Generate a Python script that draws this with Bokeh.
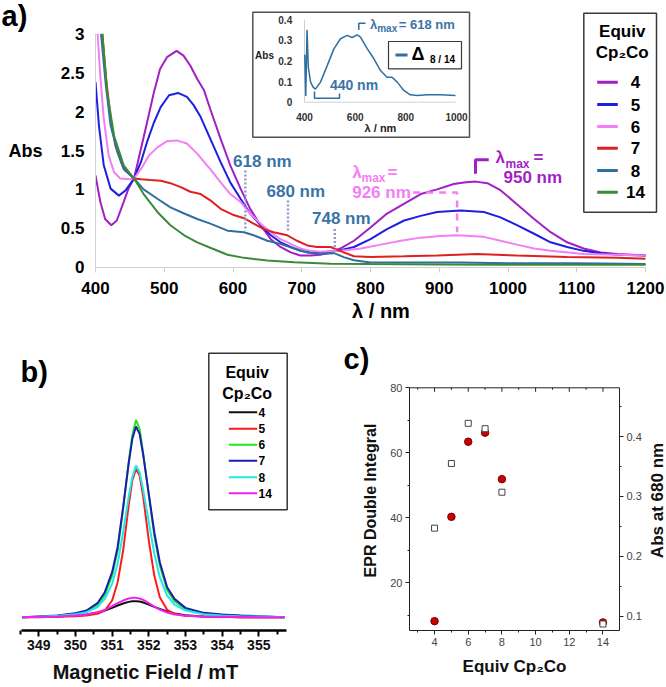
import math
from bokeh.plotting import figure
from bokeh.models import Range1d, LinearAxis, FixedTicker, NumeralTickFormatter
from bokeh.layouts import column, row
from bokeh.embed import file_html
from bokeh.resources import INLINE
from bokeh.core.properties import value

# ------------------------------------------------------------------ data
equiv_labels = ["4", "5", "6", "7", "8", "14"]

# panel a: UV-vis-NIR spectra (wavelength nm, absorbance)
wl_4 = [400, 407, 414, 423, 431, 441, 448, 456, 465, 475, 485, 494, 504, 518, 528, 538, 548, 558, 567,
        582, 596, 611, 625, 640, 655, 669, 684, 698, 713, 727, 742, 756, 776, 800, 824, 848, 873, 897,
        921, 936, 953, 970, 989, 1013, 1038, 1062, 1086, 1110, 1135, 1159, 1200]
abs_4 = [1.18, 0.84, 0.62, 0.54, 0.60, 0.84, 1.01, 1.14, 1.48, 1.86, 2.25, 2.55, 2.70, 2.78, 2.72, 2.59,
         2.42, 2.27, 2.03, 1.65, 1.31, 1.01, 0.75, 0.54, 0.36, 0.26, 0.19, 0.15, 0.15, 0.16, 0.19, 0.24,
         0.34, 0.51, 0.69, 0.81, 0.94, 1.00, 1.07, 1.09, 1.10, 1.08, 0.99, 0.81, 0.62, 0.45, 0.32, 0.24,
         0.19, 0.17, 0.15]
wl_5 = [400, 405, 412, 422, 434, 444, 456, 466, 475, 485, 495, 507, 520, 533, 543, 553, 567, 582, 596,
        611, 625, 640, 655, 669, 684, 698, 713, 727, 752, 776, 800, 824, 849, 873, 897, 931, 965, 989,
        1013, 1038, 1062, 1086, 1110, 1135, 1159, 1200]
abs_5 = [2.38, 1.82, 1.31, 1.01, 0.92, 0.99, 1.14, 1.35, 1.61, 1.86, 2.06, 2.21, 2.24, 2.19, 2.08, 1.93,
         1.65, 1.35, 1.09, 0.88, 0.69, 0.54, 0.41, 0.32, 0.26, 0.21, 0.19, 0.19, 0.21, 0.26, 0.36, 0.49,
         0.60, 0.66, 0.71, 0.73, 0.71, 0.64, 0.54, 0.43, 0.32, 0.26, 0.21, 0.18, 0.16, 0.15]
wl_6 = [403, 407, 412, 419, 427, 436, 449, 456, 466, 478, 490, 504, 518, 533, 548, 560, 567, 582, 596,
        611, 625, 640, 655, 669, 684, 698, 713, 727, 756, 786, 815, 844, 873, 902, 926, 965, 989, 1013,
        1038, 1062, 1110, 1159, 1200]
abs_6 = [3.0, 2.46, 1.91, 1.44, 1.22, 1.14, 1.13, 1.14, 1.26, 1.44, 1.54, 1.62, 1.63, 1.59, 1.46, 1.33,
         1.26, 1.09, 0.94, 0.84, 0.69, 0.56, 0.45, 0.36, 0.30, 0.24, 0.21, 0.20, 0.21, 0.24, 0.29, 0.34,
         0.38, 0.40, 0.41, 0.39, 0.34, 0.29, 0.24, 0.21, 0.17, 0.16, 0.15]
wl_7 = [410, 415, 422, 429, 439, 449, 456, 466, 480, 495, 509, 524, 538, 553, 567, 582, 601, 616, 630,
        645, 659, 679, 693, 708, 722, 742, 761, 776, 800, 849, 897, 955, 1013, 1086, 1159, 1200]
abs_7 = [3.0, 2.46, 1.91, 1.56, 1.31, 1.20, 1.14, 1.13, 1.12, 1.11, 1.08, 1.03, 0.97, 0.94, 0.86, 0.75,
         0.67, 0.63, 0.56, 0.49, 0.45, 0.41, 0.34, 0.28, 0.26, 0.26, 0.19, 0.14, 0.13, 0.14, 0.15, 0.17,
         0.15, 0.13, 0.12, 0.11]
wl_8 = [408, 415, 422, 432, 441, 456, 470, 490, 509, 529, 548, 567, 592, 616, 630, 650, 669, 689, 708,
        727, 747, 761, 776, 800, 849, 931, 1000, 1100, 1200]
abs_8 = [3.0, 2.34, 1.82, 1.48, 1.26, 1.14, 1.0, 0.88, 0.77, 0.69, 0.62, 0.56, 0.47, 0.45, 0.41, 0.34,
         0.30, 0.24, 0.19, 0.17, 0.18, 0.13, 0.09, 0.06, 0.06, 0.06, 0.05, 0.05, 0.04]
wl_14 = [410, 417, 427, 441, 456, 470, 490, 509, 529, 548, 567, 592, 616, 650, 689, 742, 800, 900, 1000,
         1100, 1200]
abs_14 = [3.0, 2.25, 1.69, 1.31, 1.14, 0.94, 0.71, 0.54, 0.41, 0.32, 0.25, 0.16, 0.12, 0.086, 0.064,
          0.045, 0.04, 0.035, 0.03, 0.03, 0.03]

marked_wl = [618, 680, 748]
marked_labels = ["618 nm", "680 nm", "748 nm"]

# inset: difference spectrum 8 / 14
wl_delta = [401, 405, 410, 415, 424, 434, 443, 463, 490, 516, 542, 568, 588, 608, 621, 648, 674, 700,
            726, 746, 766, 792, 818, 845, 884, 937, 996]
abs_delta = [0.23, 0.03, 0.35, 0.17, 0.097, 0.073, 0.063, 0.097, 0.178, 0.258, 0.307, 0.323, 0.313,
             0.326, 0.315, 0.258, 0.21, 0.153, 0.121, 0.121, 0.097, 0.057, 0.036, 0.032, 0.036, 0.036,
             0.032]
inset_xticks = [400, 600, 800, 1000]
inset_yticks = [0, 0.1, 0.2, 0.3, 0.4]
inset_ylabels = ["0", "0.1", "0.2", "0.3", "0.4"]

# panel b: EPR spectra (field mT, intensity a.u.)
field = [348.55, 349.0, 349.5, 350.0, 350.3, 350.6, 350.8, 351.0, 351.15, 351.3, 351.45, 351.55, 351.65,
         351.75, 351.85, 352.0, 352.15, 352.3, 352.5, 352.7, 353.0, 353.5, 354.0, 354.5, 355.0, 355.7]
epr_4 = [0, 0.01, 0.02, 0.05, 0.08, 0.14, 0.2, 0.28, 0.35, 0.41, 0.46, 0.48, 0.48, 0.47, 0.44, 0.38,
         0.31, 0.25, 0.17, 0.11, 0.06, 0.02, 0.01, 0, 0, 0]
epr_5 = [0, 0, 0.01, 0.03, 0.05, 0.1, 0.2, 0.5, 1.05, 2.0, 3.35, 4.1, 4.45, 4.25, 3.6, 2.3, 1.25, 0.6,
         0.22, 0.1, 0.04, 0.02, 0.01, 0, 0, 0]
epr_6 = [0, 0.01, 0.04, 0.1, 0.17, 0.36, 0.66, 1.25, 2.0, 3.25, 4.65, 5.45, 5.92, 5.65, 4.9, 3.65, 2.45,
         1.55, 0.82, 0.48, 0.24, 0.11, 0.06, 0.04, 0.02, 0]
epr_7 = [0, 0.02, 0.05, 0.12, 0.2, 0.42, 0.75, 1.35, 2.1, 3.3, 4.6, 5.35, 5.72, 5.5, 4.85, 3.7, 2.55,
         1.65, 0.9, 0.55, 0.28, 0.13, 0.08, 0.05, 0.03, 0]
epr_8 = [0, 0.01, 0.04, 0.09, 0.15, 0.3, 0.55, 1.0, 1.6, 2.55, 3.6, 4.2, 4.55, 4.35, 3.8, 2.85, 1.9, 1.2,
         0.65, 0.38, 0.2, 0.09, 0.05, 0.03, 0.02, 0]
epr_14 = [0, 0.01, 0.02, 0.05, 0.08, 0.15, 0.22, 0.33, 0.42, 0.5, 0.56, 0.58, 0.58, 0.56, 0.52, 0.42,
          0.32, 0.23, 0.14, 0.08, 0.04, 0.02, 0.01, 0.01, 0, 0]
field_ticks = [349, 350, 351, 352, 353, 354, 355]

# panel c
equiv = [4, 5, 6, 7, 8, 14]
epr_integral = [8.2, 40.3, 63.4, 66.2, 51.9, 7.8]
abs_680 = [0.247, 0.355, 0.422, 0.413, 0.307, 0.087]
equiv_ticks = [4, 6, 8, 10, 12, 14]
equiv_minor = [3, 5, 7, 9, 11, 13]

# ------------------------------------------------------------------ style
FONT = "Liberation Sans"
colors_a = ["#a21fc4", "#1f1fe0", "#f47ef4", "#e0201e", "#2f6fa0", "#3b8a3b"]
colors_b = ["#111111", "#ff1a1a", "#22e622", "#1c1cb0", "#1ee8e8", "#f020f0"]
STEEL_TXT = "#3a74a6"
DOT = "#9896c8"


def label(p, x, y, s, size, color="black", bold=True, align="left", baseline="middle",
          xr="scr", yr="scr", angle=0.0):
    p.text(x=[x], y=[y], text=[s], text_font=value(FONT), text_font_size=f"{size}px",
           text_font_style="bold" if bold else "normal", text_color=color, text_align=align,
           text_baseline=baseline, angle=angle, x_range_name=xr, y_range_name=yr)


def strip(x0, x1, y_top, y_bottom, height, bottom_border):
    """Axis-less figure used only to hold panel texts; ranges are picture pixel coordinates."""
    s = figure(width=int(round(x1 - x0)), height=height, output_backend="svg", toolbar_location=None,
               x_range=Range1d(x0, x1), y_range=Range1d(y_bottom, y_top),
               x_axis_location=None, y_axis_location=None,
               min_border_left=0, min_border_right=0, min_border_top=0, min_border_bottom=bottom_border)
    s.extra_x_ranges = {"scr": Range1d(x0, x1)}
    s.extra_y_ranges = {"scr": Range1d(y_bottom, y_top)}
    s.outline_line_color = None
    s.grid.visible = False
    return s


# ================================================================== panel a
HA = 330
FLA, FRA, FTA, FBA = 95, 666, 0, 267          # frame in picture pixels
kx = (645 - 95) / 800
ky = (266.7 - 33.3) / 3
ikx = (456 - 304) / 600
iky = (101.7 - 19) / 0.4

strip_a = strip(0, 50, 0, FBA, HA, HA - FBA)
label(strip_a, 1, 15, "a)", 29)
label(strip_a, 25, 150, "Abs", 18, align="center")

pa = figure(width=FRA - 50, height=HA, output_backend="svg", toolbar_location=None,
            x_range=Range1d(400 - (FLA - 95) / kx, 400 + (FRA - 95) / kx),
            y_range=Range1d(-(FBA - 266.7) / ky, (266.7 - FTA) / ky),
            min_border_left=FLA - 50, min_border_right=0, min_border_top=0,
            min_border_bottom=HA - FBA)
pa.extra_x_ranges = {"scr": Range1d(FLA, FRA),
                     "ix": Range1d(400 - (304 - FLA) / ikx, 400 + (FRA - 304) / ikx)}
pa.extra_y_ranges = {"scr": Range1d(FBA, FTA),
                     "iy": Range1d(-(FBA - 101.7) / iky, (101.7 - FTA) / iky)}
pa.outline_line_color = None
pa.grid.visible = False

for ax in (pa.xaxis[0], pa.yaxis[0]):
    ax.axis_line_color = "#d0d0d0"
    ax.major_tick_line_color = "#d0d0d0"
    ax.minor_tick_line_color = None
    ax.major_label_text_font = FONT
    ax.major_label_text_font_style = "bold"
    ax.major_label_text_font_size = "17px"
    ax.major_label_text_color = "black"
    ax.major_tick_in = 0
pa.xaxis[0].ticker = FixedTicker(ticks=[400, 500, 600, 700, 800, 900, 1000, 1100, 1200])
pa.xaxis[0].bounds = (400, 1200)
pa.xaxis[0].major_tick_out = 5
pa.xaxis[0].major_label_standoff = 9
pa.xaxis[0].axis_label = "λ / nm"
pa.xaxis[0].axis_label_text_font = FONT
pa.xaxis[0].axis_label_text_font_size = "20px"
pa.xaxis[0].axis_label_text_font_style = "bold"
pa.xaxis[0].axis_label_text_color = "black"
pa.xaxis[0].axis_label_standoff = 3
pa.yaxis[0].ticker = FixedTicker(ticks=[0, 0.5, 1, 1.5, 2, 2.5, 3])
pa.yaxis[0].formatter = NumeralTickFormatter(format="0.[0]")
pa.yaxis[0].bounds = (0, 3)
pa.yaxis[0].major_tick_out = 0
pa.yaxis[0].major_label_standoff = 11

series_a = [(wl_4, abs_4), (wl_5, abs_5), (wl_6, abs_6), (wl_7, abs_7), (wl_8, abs_8), (wl_14, abs_14)]
for (xs, ys), c in zip(series_a, colors_a):
    pa.line(xs, ys, line_color=c, line_width=2)

# marked wavelengths
pa.segment(x0=marked_wl, y0=[1.243, 0.857, 0.49], x1=marked_wl, y1=[0.47, 0.47, 0.193],
           line_color=DOT, line_width=2.5, line_dash="2 2")
for (X, Y), s in zip([(261.9, 161), (295.3, 190.7), (340.8, 218.3)], marked_labels):
    label(pa, X, Y, s, 17, STEEL_TXT, align="center")

# pink lambda max
pink = colors_a[2]
pa.line([862, 926, 926], [0.96, 0.96, 0.45], line_color=pink, line_width=2.5, line_dash="7 6")
label(pa, 351.7, 171.7, "λ", 17, pink)
label(pa, 361, 177.5, "max", 12, pink)
label(pa, 387, 171.7, "=", 17, pink)
label(pa, 351.7, 191.7, "926 nm", 17, pink)

# purple lambda max
purple = colors_a[0]
pa.line([972, 952.7, 952.7], [1.38, 1.38, 1.2], line_color=purple, line_width=3)
label(pa, 495, 157, "λ", 17, purple)
label(pa, 505, 163.3, "max", 12, purple)
label(pa, 533, 157, "=", 17, purple)
label(pa, 503, 177.3, "950 nm", 17, purple)

# legend a
pa.quad(left=583.3, right=656, top=12.7, bottom=211.7, fill_color="white", line_color="#3a3a3a",
        line_width=1.5, x_range_name="scr", y_range_name="scr")
label(pa, 621.7, 31, "Equiv", 17, align="center")
label(pa, 621.7, 52, "Cp₂Co", 17, align="center")
rows_a = [81.7, 104, 126, 147.7, 170, 191.7]
pa.segment(x0=[596.7] * 6, x1=[617.3] * 6, y0=rows_a, y1=rows_a,
           line_color=colors_a, line_width=3, x_range_name="scr", y_range_name="scr")
pa.text(x=[635] * 6, y=rows_a, text=equiv_labels, text_font=value(FONT),
        text_font_size="17px", text_font_style="bold", text_align="center", text_baseline="middle",
        text_color="black", x_range_name="scr", y_range_name="scr")

# inset
pa.quad(left=252.3, right=469, top=11.7, bottom=136.7, fill_color="white", line_color="#505050",
        line_width=1.5, x_range_name="scr", y_range_name="scr")
pa.segment(x0=[400, 400], y0=[0, 0], x1=[1000, 400], y1=[0, 0.4], line_color="#d0d0d0", line_width=1,
           x_range_name="ix", y_range_name="iy")
pa.line(wl_delta, abs_delta, line_color=colors_a[4], line_width=1.5, x_range_name="ix", y_range_name="iy")
pa.text(x=[291.7] * 5, y=inset_yticks, text=inset_ylabels, text_font=value(FONT),
        text_font_size="10px", text_font_style="bold", text_align="right", text_baseline="middle",
        text_color="#333333", x_range_name="scr", y_range_name="iy")
pa.text(x=inset_xticks, y=[116.7] * 4, text=[str(t) for t in inset_xticks], text_font=value(FONT),
        text_font_size="10px", text_font_style="bold", text_align="center", text_baseline="middle",
        text_color="#333333", x_range_name="ix", y_range_name="scr")
label(pa, 264, 55, "Abs", 10, "#222222", align="center")
label(pa, 380, 127.7, "λ / nm", 11, "#222222", align="center")
pa.line([365, 358.3, 358.3], [22.7, 22.7, 29.5],
        line_color=colors_a[4], line_width=1.5, x_range_name="scr", y_range_name="scr")
label(pa, 369.5, 23.5, "λ", 13, STEEL_TXT)
label(pa, 376.7, 28.2, "max", 10, STEEL_TXT)
label(pa, 398.3, 23.5, "= 618 nm", 13, STEEL_TXT)
pa.line([314, 314, 339, 339], [91, 97.8, 97.8, 93],
        line_color=colors_a[4], line_width=1.5, x_range_name="scr", y_range_name="scr")
label(pa, 353.5, 84.3, "440 nm", 14, STEEL_TXT, align="center")
pa.quad(left=388, right=461, top=41, bottom=68.3, fill_color="white", line_color="#3a3a3a",
        line_width=1.2, x_range_name="scr", y_range_name="scr")
pa.segment(x0=[395], x1=[407], y0=[54.5], y1=[54.5],
           line_color=colors_a[4], line_width=3, x_range_name="scr", y_range_name="scr")
label(pa, 411, 53, "Δ", 18)
label(pa, 429.5, 58.5, "8 / 14", 10)

# ================================================================== panel b
HB = 357
Y0B = 330                     # picture y of the top of the lower row
FBB = 630                     # frame bottom (picture px)
BOT = Y0B + HB - FBB          # common bottom border of the lower row
bk = (258.3 - 38.3) / 6
unit = 100 / 3
pb = figure(width=340, height=HB, output_backend="svg", toolbar_location=None,
            x_range=Range1d(349 - 38.3 / bk, 349 + (290 - 38.3) / bk),
            y_range=Range1d(-(FBB - 616.7) / unit, (616.7 - Y0B) / unit),
            y_axis_location=None,
            min_border_left=0, min_border_right=50, min_border_top=0, min_border_bottom=BOT)
pb.extra_x_ranges = {"scr": Range1d(0, 290)}
pb.extra_y_ranges = {"scr": Range1d(FBB, Y0B)}
pb.outline_line_color = None
pb.grid.visible = False
xb = pb.xaxis[0]
xb.ticker = FixedTicker(ticks=field_ticks, minor_ticks=[348.5 + i for i in range(8)])
xb.bounds = (349 - (38.3 - 20.7) / bk, 349 + (285.7 - 38.3) / bk)
xb.axis_line_width = 2.5
xb.axis_line_color = "black"
xb.major_tick_line_color = "black"
xb.major_tick_line_width = 2
xb.minor_tick_line_color = "black"
xb.minor_tick_line_width = 2
xb.major_tick_in = 0
xb.major_tick_out = 6
xb.minor_tick_in = 0
xb.minor_tick_out = 4
xb.major_label_text_font = FONT
xb.major_label_text_font_size = "14px"
xb.major_label_text_font_style = "bold"
xb.major_label_text_color = "#111111"
xb.major_label_standoff = 3
xb.axis_label = "Magnetic Field / mT"
xb.axis_label_text_font = FONT
xb.axis_label_text_font_size = "20px"
xb.axis_label_text_font_style = "bold"
xb.axis_label_text_color = "#111111"
xb.axis_label_standoff = 8

for ys, c in zip([epr_4, epr_5, epr_6, epr_7, epr_8, epr_14], colors_b):
    pb.line(field, ys, line_color=c, line_width=2)

label(pb, 20, 371.7, "b)", 29)
pb.quad(left=208.3, right=286.7, top=352.7, bottom=509.3, fill_color="white", line_color="#333333",
        line_width=1.5, x_range_name="scr", y_range_name="scr")
label(pb, 246.7, 371.7, "Equiv", 16, align="center")
label(pb, 246.7, 392.7, "Cp₂Co", 16, align="center")
rows_b = [411.7, 428.3, 444.3, 460.3, 476.7, 492.7]
pb.segment(x0=[228.3] * 6, x1=[256.7] * 6, y0=rows_b, y1=rows_b,
           line_color=colors_b, line_width=2, x_range_name="scr", y_range_name="scr")
pb.text(x=[258] * 6, y=rows_b, text=equiv_labels, text_font=value(FONT), text_font_size="12px",
        text_font_style="bold", text_align="left", text_baseline="middle", text_color="black",
        x_range_name="scr", y_range_name="scr")

# ================================================================== panel c
strip_c = strip(340, 387, Y0B, FBB, HB, BOT)
label(strip_c, 343, 358, "c)", 29)
label(strip_c, 370, 500, "EPR Double Integral", 16, "#111111", align="center", angle=math.pi / 2)
strip_cr = strip(644, 666, Y0B, FBB, HB, BOT)
label(strip_cr, 656.7, 500, "Abs at 680 nm", 17, "#111111", align="center", angle=math.pi / 2)

FLC, FRC = 407, 619
ck = (602.3 - 432.3) / 10
cky = (582.3 - 387.3) / 60
rky = (615.7 - 436) / 0.3
x_lo, x_hi = 4 - (432.3 - FLC) / ck, 4 + (FRC - 432.3) / ck
y_lo = 20 - (FBB - 582.3) / cky
pc = figure(width=644 - 387, height=HB, output_backend="svg", toolbar_location=None,
            x_range=Range1d(x_lo, x_hi),
            y_range=Range1d(y_lo, 80 + (387.3 - Y0B) / cky),
            min_border_left=FLC - 387, min_border_right=644 - FRC, min_border_top=0,
            min_border_bottom=BOT)
pc.extra_y_ranges = {"right": Range1d(0.1 - (FBB - 615.7) / rky, 0.4 + (436 - Y0B) / rky)}
pc.outline_line_color = None
pc.grid.visible = False

right_ax = LinearAxis(y_range_name="right",
                      ticker=FixedTicker(ticks=[0.1, 0.2, 0.3, 0.4], minor_ticks=[0.15, 0.25, 0.35, 0.45]))
pc.add_layout(right_ax, "right")
bottom_ax = pc.below[0]
left_ax = pc.left[0]
bottom_ax.ticker = FixedTicker(ticks=equiv_ticks, minor_ticks=equiv_minor)
left_ax.ticker = FixedTicker(ticks=[20, 40, 60, 80], minor_ticks=[10, 30, 50, 70])
left_ax.bounds = (y_lo, 80)
right_ax.bounds = (0.1 - (FBB - 615.7) / rky, 0.4 + (436 - 387.3) / rky)
for ax in (bottom_ax, left_ax, right_ax):
    ax.axis_line_color = "#222222"
    ax.major_tick_line_color = "#222222"
    ax.minor_tick_line_color = "#222222"
    ax.major_label_text_font = FONT
    ax.major_label_text_font_size = "11px"
    ax.major_label_text_color = "#444444"
    ax.major_label_standoff = 3
    ax.major_tick_in = 0
    ax.major_tick_out = 4
    ax.minor_tick_in = 0
    ax.minor_tick_out = 2
bottom_ax.axis_label = "Equiv Cp₂Co"
bottom_ax.axis_label_text_font = FONT
bottom_ax.axis_label_text_font_size = "17px"
bottom_ax.axis_label_text_font_style = "bold"
bottom_ax.axis_label_text_color = "#111111"
bottom_ax.axis_label_standoff = 8

# top edge of the box with inward ticks
pc.segment(x0=[x_lo], x1=[x_hi], y0=[80], y1=[80], line_color="#222222", line_width=1)
pc.segment(x0=equiv_ticks, x1=equiv_ticks, y0=[80] * 6, y1=[80 - 4 / cky] * 6,
           line_color="#222222", line_width=1)
pc.segment(x0=equiv_minor, x1=equiv_minor, y0=[80] * 6, y1=[80 - 2 / cky] * 6,
           line_color="#222222", line_width=1)

pc.scatter(equiv, epr_integral, marker="circle", size=7.5, fill_color="#cc0000", line_color="#7a0000")
pc.scatter(equiv, abs_680, marker="square", size=6, fill_color="white", line_color="#444444",
           line_width=1, y_range_name="right")

layout = column(row(strip_a, pa), row(pb, strip_c, pc, strip_cr))
open("out.html", "w").write(file_html(layout, INLINE))
